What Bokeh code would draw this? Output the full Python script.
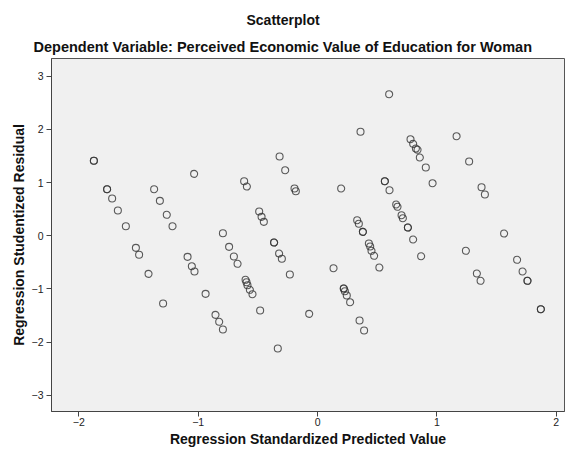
from bokeh.plotting import figure
from bokeh.models import Title, FixedTicker, Range1d
from bokeh.embed import file_html
from bokeh.resources import INLINE

# Regression standardized predicted values (x) and studentized residuals (y)
pred = [-1.874, -1.874, -1.763, -1.763, -1.721, -1.673, -1.606, -1.522, -1.495, -1.416,
        -1.369, -1.321, -1.294, -1.263, -1.215, -1.089, -1.053, -1.031, -1.034, -0.938,
        -0.855, -0.824, -0.793, -0.793, -0.741, -0.701, -0.670, -0.615, -0.592, -0.603,
        -0.595, -0.587, -0.567, -0.545, -0.489, -0.469, -0.450, -0.481, -0.364, -0.364,
        -0.322, -0.299, -0.333, -0.318, -0.271, -0.232, -0.193, -0.182, -0.070, 0.134,
        0.198, 0.220, 0.220, 0.229, 0.245, 0.273, 0.352, 0.390, 0.360, 0.332,
        0.346, 0.380, 0.380, 0.430, 0.441, 0.452, 0.474, 0.518, 0.564, 0.564,
        0.603, 0.600, 0.659, 0.670, 0.704, 0.715, 0.757, 0.757, 0.801, 0.868,
        0.779, 0.801, 0.824, 0.838, 0.857, 0.907, 0.964, 1.165, 1.270, 1.243,
        1.335, 1.366, 1.374, 1.402, 1.563, 1.672, 1.718, 1.759, 1.759, 1.871, 1.871]
resid = [1.409, 1.409, 0.875, 0.875, 0.700, 0.474, 0.179, -0.228, -0.359, -0.717,
         0.875, 0.656, -1.275, 0.393, 0.179, -0.397, -0.574, -0.673, 1.164, -1.093,
         -1.488, -1.619, -1.764, 0.047, -0.209, -0.391, -0.528, 1.025, 0.925, -0.829,
         -0.875, -0.931, -1.017, -1.100, 0.455, 0.355, 0.261, -1.407, -0.128, -0.128,
         -0.335, -0.434, -2.122, 1.490, 1.232, -0.730, 0.888, 0.837, -1.469, -0.611,
         0.888, -0.993, -0.993, -1.044, -1.125, -1.251, -1.595, -1.783, 1.954, 0.292,
         0.224, 0.073, 0.073, -0.147, -0.203, -0.284, -0.378, -0.598, 1.025, 1.025,
         0.856, 2.661, 0.587, 0.544, 0.386, 0.329, 0.154, 0.154, -0.071, -0.386,
         1.815, 1.728, 1.640, 1.616, 1.471, 1.283, 0.987, 1.871, 1.396, -0.284,
         -0.711, -0.848, 0.912, 0.775, 0.041, -0.453, -0.673, -0.848, -0.848, -1.382, -1.382]

x_ticks = [-2, -1, 0, 1, 2]
y_ticks = [-3, -2, -1, 0, 1, 2, 3]

FONT = "Liberation Sans"

p = figure(width=565, height=449, output_backend="svg", toolbar_location=None,
           x_range=Range1d(-2.229, 2.069), y_range=Range1d(-3.306, 3.333),
           min_border_left=51, min_border_right=1, min_border_bottom=38, min_border_top=58)

p.title.visible = False
# inner title (closest to the frame) first, then the outer one
p.add_layout(Title(text="Dependent Variable: Perceived Economic Value of Education for Woman",
                   align="left", offset=-18, text_font=FONT,
                   text_font_size="14.5px", text_font_style="bold",
                   text_color="#111111", standoff=7), "above")
p.add_layout(Title(text="Scatterplot", align="left", offset=195, text_font=FONT,
                   text_font_size="14px", text_font_style="bold",
                   text_color="#111111", standoff=11), "above")

p.background_fill_color = "#F0F0F0"
p.border_fill_color = "white"
p.outline_line_color = "#555555"
p.outline_line_width = 1
p.xgrid.visible = False
p.ygrid.visible = False

for ax in (p.xaxis[0], p.yaxis[0]):
    ax.axis_label_text_font = FONT
    ax.axis_label_text_font_style = "bold"
    ax.axis_label_text_font_size = "14px"
    ax.axis_label_text_color = "#111111"
    ax.major_label_text_font = FONT
    ax.major_label_text_font_size = "10.5px"
    ax.major_label_text_color = "#222222"
    ax.axis_line_color = "#444444"
    ax.major_tick_line_color = "#444444"
    ax.major_tick_in = 0
    ax.major_tick_out = 5
    ax.minor_tick_line_color = None

p.xaxis[0].ticker = FixedTicker(ticks=x_ticks)
p.yaxis[0].ticker = FixedTicker(ticks=y_ticks)
p.xaxis[0].axis_label = "Regression Standardized Predicted Value"
p.yaxis[0].axis_label = "Regression Studentized Residual"
p.xaxis[0].axis_label_standoff = 2
p.yaxis[0].axis_label_standoff = 2
p.xaxis[0].major_label_standoff = 1
p.yaxis[0].major_label_standoff = 3

p.scatter(pred, resid, marker="circle", size=7, fill_color=None,
          line_color="#333333", line_alpha=0.8, line_width=1.1)

open("out.html", "w").write(file_html(p, INLINE))
